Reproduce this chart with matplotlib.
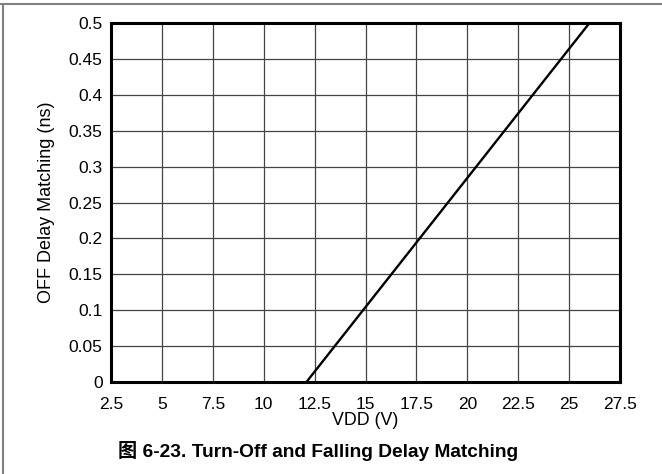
import matplotlib
matplotlib.use("Agg")
import matplotlib.pyplot as plt
from matplotlib.lines import Line2D

# Data
vdd = [12.1, 26.0]
off_delay = [0.0, 0.5]
x_ticks = [2.5, 5, 7.5, 10, 12.5, 15, 17.5, 20, 22.5, 25, 27.5]
x_tick_labels = ["2.5", "5", "7.5", "10", "12.5", "15", "17.5", "20", "22.5", "25", "27.5"]
y_ticks = [0, 0.05, 0.1, 0.15, 0.2, 0.25, 0.3, 0.35, 0.4, 0.45, 0.5]
y_tick_labels = ["0", "0.05", "0.1", "0.15", "0.2", "0.25", "0.3", "0.35", "0.4", "0.45", "0.5"]

plt.rcParams['font.family'] = ['Liberation Sans', 'Noto Sans CJK SC', 'DejaVu Sans']

W, H = 662, 474
fig = plt.figure(figsize=(W / 100, H / 100), dpi=100)
ax = fig.add_axes([111 / W, 1 - 382 / H, (620 - 111) / W, (382 - 23) / H])

ax.plot(vdd, off_delay, color='black', linewidth=1.7, solid_capstyle='butt', zorder=3)
ax.set_xlim(2.5, 27.5)
ax.set_ylim(0, 0.5)
ax.set_xticks(x_ticks)
ax.set_xticklabels(x_tick_labels)
ax.set_yticks(y_ticks)
ax.set_yticklabels(y_tick_labels)
ax.tick_params(axis='both', length=0, labelsize=12.5, colors='black')
ax.tick_params(axis='y', pad=6)
ax.tick_params(axis='x', pad=11)
ax.grid(True, color='#444444', linewidth=0.9)
for s in ax.spines.values():
    s.set_linewidth(2.2)
    s.set_color('black')
ax.set_xlabel('VDD (V)', fontsize=12.8, labelpad=0)
ax.set_ylabel('OFF Delay Matching (ns)', fontsize=13, labelpad=10)

# frame lines
fig.add_artist(Line2D([0, 1], [1 - 4 / H, 1 - 4 / H], color='#808080', linewidth=1.5, transform=fig.transFigure))
fig.add_artist(Line2D([3 / W, 3 / W], [0, 1 - 4 / H], color='#808080', linewidth=1.5, transform=fig.transFigure))

fig.text(318 / W, 1 - 451 / H, '图 6-23. Turn-Off and Falling Delay Matching',
         ha='center', va='center', fontsize=13.8, fontweight='bold',
         family=['Liberation Sans', 'Noto Sans CJK SC'])

fig.savefig('out.png', dpi=100)
